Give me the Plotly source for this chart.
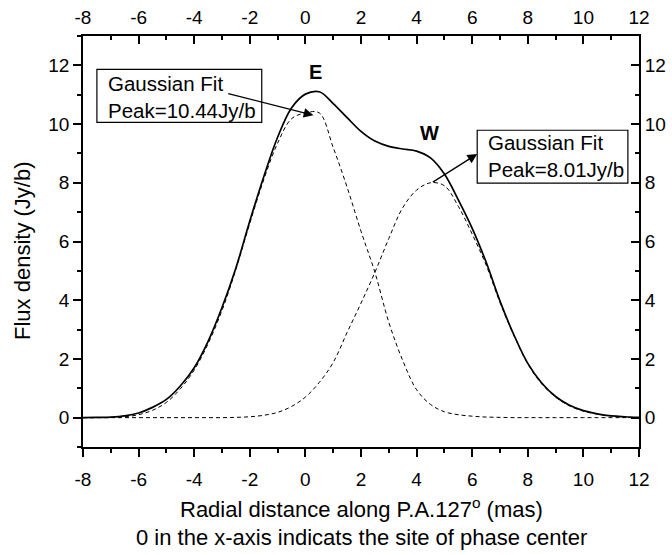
import plotly.graph_objects as go

# ---------------- data ----------------
x_vals = [-8, -7.5, -7, -6.5, -6, -5.5, -5, -4.5, -4, -3.5, -3, -2.5, -2, -1.5, -1, -0.5,
          0, 0.5, 1, 1.5, 2, 2.5, 3, 3.5, 4, 4.5, 5, 5.5, 6, 6.5, 7, 7.5, 8, 8.5, 9, 9.5,
          10, 10.5, 11, 11.5, 12]

total_flux = [0.0, 0.01, 0.02, 0.06, 0.16, 0.35, 0.62, 1.08, 1.7, 2.6, 3.75, 5.1, 6.7, 8.2,
              9.55, 10.55, 11.02, 11.1, 10.7, 10.22, 9.75, 9.42, 9.24, 9.15, 9.08, 8.85,
              8.3, 7.42, 6.45, 5.3, 3.97, 2.82, 1.85, 1.18, 0.72, 0.42, 0.24, 0.13, 0.06,
              0.03, 0.01]

gauss_E = [0.0, 0.0, 0.01, 0.03, 0.1, 0.25, 0.52, 0.98, 1.62, 2.52, 3.65, 5.05, 6.62, 8.1,
           9.35, 10.18, 10.38, 10.38, 9.2, 7.85, 6.35, 4.95, 3.25, 1.95, 0.95, 0.45, 0.2,
           0.1, 0.05, 0.02, 0.01, 0.0, 0.0, 0.0, 0.0, 0.0, 0.0, 0.0, 0.0, 0.0, 0.0]

gauss_W = [0.0, 0.0, 0.0, 0.0, 0.0, 0.0, 0.0, 0.0, 0.0, 0.0, 0.0, 0.01, 0.03, 0.08, 0.18,
           0.38, 0.7, 1.2, 1.88, 2.9, 3.9, 4.95, 6.1, 7.15, 7.75, 8.0, 7.9, 7.2, 6.25,
           5.2, 3.92, 2.8, 1.83, 1.15, 0.7, 0.4, 0.22, 0.12, 0.06, 0.02, 0.0]

x_tick_vals = [-8, -6, -4, -2, 0, 2, 4, 6, 8, 10, 12]
x_tick_text = ["-8", "-6", "-4", "-2", "0", "2", "4", "6", "8", "10", "12"]
y_tick_vals = [0, 2, 4, 6, 8, 10, 12]
y_tick_text = ["0", "2", "4", "6", "8", "10", "12"]

fit_E_text = "Gaussian Fit<br>Peak=10.44Jy/b"
fit_W_text = "Gaussian Fit<br>Peak=8.01Jy/b"
x_title_1 = "Radial distance along P.A.127<sup>o</sup> (mas)"
x_title_2 = "0 in the x-axis indicats the site of phase center"
y_title = "Flux density (Jy/b)"

FONT = "Liberation Sans, Arial, Helvetica, sans-serif"

fig = go.Figure()
fig.add_trace(go.Scatter(x=x_vals, y=gauss_E, mode="lines",
                         line=dict(color="black", width=1, dash="4px,3px", shape="spline"),
                         showlegend=False, hoverinfo="skip"))
fig.add_trace(go.Scatter(x=x_vals, y=gauss_W, mode="lines",
                         line=dict(color="black", width=1, dash="4px,3px", shape="spline"),
                         showlegend=False, hoverinfo="skip"))
fig.add_trace(go.Scatter(x=x_vals, y=total_flux, mode="lines",
                         line=dict(color="black", width=1.7, shape="spline"),
                         showlegend=False, hoverinfo="skip"))
# invisible trace to activate the mirrored (top/right) axes
fig.add_trace(go.Scatter(x=[-8, 12], y=[-1, 13], xaxis="x2", yaxis="y2", mode="markers",
                         marker=dict(opacity=0), showlegend=False, hoverinfo="skip"))

common_axis = dict(showgrid=False, zeroline=False, showline=True, linecolor="black", linewidth=1.8,
                   tickcolor="black", tickwidth=1.5, ticklen=8, automargin=False,
                   tickfont=dict(family=FONT, size=19, color="black"))


def minor(direction):
    return dict(dtick=1, tick0=0, ticklen=4, tickcolor="black", tickwidth=1.5, ticks=direction)


fig.update_layout(
    width=672, height=555,
    margin=dict(l=83, r=33, t=36, b=108),
    paper_bgcolor="white", plot_bgcolor="white",
    font=dict(family=FONT, color="black"),
    xaxis=dict(range=[-8, 12], tickmode="array", tickvals=x_tick_vals, ticktext=x_tick_text,
               ticks="outside", minor=minor("outside"), ticklabelstandoff=6, **common_axis),
    yaxis=dict(range=[-1, 13], tickmode="array", tickvals=y_tick_vals, ticktext=y_tick_text,
               ticks="outside", minor=minor("outside"), **common_axis),
    xaxis2=dict(range=[-8, 12], overlaying="x", side="top", anchor="y", tickmode="array",
                tickvals=x_tick_vals, ticktext=x_tick_text, ticks="inside",
                minor=minor("inside"), ticklabelstandoff=3, **common_axis),
    yaxis2=dict(range=[-1, 13], overlaying="y", side="right", anchor="x", tickmode="array",
                tickvals=y_tick_vals, ticktext=y_tick_text, ticks="inside",
                minor=minor("inside"), **common_axis),
)

# boxes around the fit labels
fig.add_shape(type="rect", xref="x", yref="y", x0=-7.5, x1=-1.57, y0=10.06, y1=11.86,
              line=dict(color="black", width=1.2), fillcolor="white", layer="above")
fig.add_shape(type="rect", xref="x", yref="y", x0=6.18, x1=11.6, y0=7.99, y1=9.79,
              line=dict(color="black", width=1.2), fillcolor="white", layer="above")

annots = []
annots.append(dict(x=-7.16, y=10.93, xref="x", yref="y", xanchor="left", yanchor="middle", text=fit_E_text,
                   showarrow=False, align="left", font=dict(family=FONT, size=20.5, color="black")))
annots.append(dict(x=6.5, y=8.9, xref="x", yref="y", xanchor="left", yanchor="middle", text=fit_W_text,
                   showarrow=False, align="left", font=dict(family=FONT, size=20.5, color="black")))
# arrows
annots.append(dict(x=0.29, y=10.3, ax=-2.83, ay=11.05, xref="x", yref="y", axref="x", ayref="y",
                   text="", showarrow=True, arrowhead=2, arrowsize=1.5, arrowwidth=1.3, arrowcolor="black"))
annots.append(dict(x=6.18, y=8.98, ax=4.53, ay=7.99, xref="x", yref="y", axref="x", ayref="y",
                   text="", showarrow=True, arrowhead=2, arrowsize=1.5, arrowwidth=1.3, arrowcolor="black"))
# component labels
annots.append(dict(x=0.37, y=11.76, xref="x", yref="y", text="<b>E</b>", showarrow=False,
                   font=dict(family=FONT, size=20, color="black")))
annots.append(dict(x=4.46, y=9.68, xref="x", yref="y", text="<b>W</b>", showarrow=False,
                   font=dict(family=FONT, size=20, color="black")))
# axis titles
annots.append(dict(x=0.5, y=-0.148, xref="paper", yref="paper", text=x_title_1, showarrow=False,
                   yanchor="middle", font=dict(family=FONT, size=22, color="black")))
annots.append(dict(x=0.5, y=-0.219, xref="paper", yref="paper", text=x_title_2, showarrow=False,
                   yanchor="middle", font=dict(family=FONT, size=22, color="black")))
annots.append(dict(x=-0.11, y=0.479, xref="paper", yref="paper", text=y_title, showarrow=False,
                   textangle=-90, xanchor="center", yanchor="middle",
                   font=dict(family=FONT, size=22, color="black")))
fig.update_layout(annotations=annots)

fig.write_html("out.html", config={"displayModeBar": False},
               post_script="document.body.style.margin='0';document.body.style.padding='0';")
